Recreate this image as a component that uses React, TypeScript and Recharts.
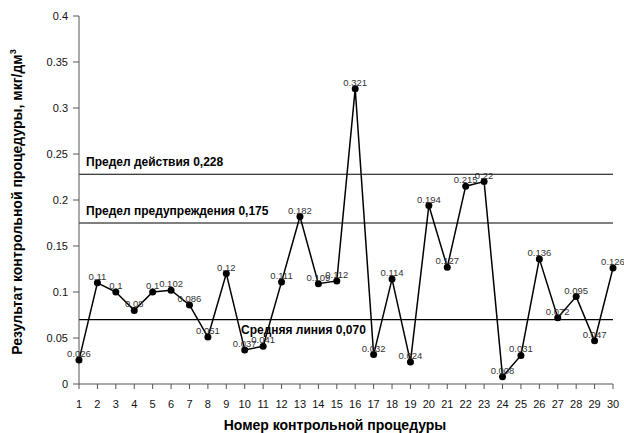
import React from 'react';
import {
  LineChart,
  Line,
  XAxis,
  YAxis,
  ReferenceLine,
  LabelList,
} from 'recharts';

// номера контрольных процедур и результаты, мкг/дм3
const procedures = [
  1, 2, 3, 4, 5, 6, 7, 8, 9, 10, 11, 12, 13, 14, 15,
  16, 17, 18, 19, 20, 21, 22, 23, 24, 25, 26, 27, 28, 29, 30,
];
const results = [
  0.026, 0.11, 0.1, 0.08, 0.1, 0.102, 0.086, 0.051, 0.12, 0.037,
  0.041, 0.111, 0.182, 0.109, 0.112, 0.321, 0.032, 0.114, 0.024, 0.194,
  0.127, 0.215, 0.22, 0.008, 0.031, 0.136, 0.072, 0.095, 0.047, 0.126,
];
const yTicks = [0, 0.05, 0.1, 0.15, 0.2, 0.25, 0.3, 0.35, 0.4];

const actionLimit = 0.228;
const warningLimit = 0.175;
const centerLine = 0.07;

const data = procedures.map((n, i) => ({ n, value: results[i] }));

const FONT = '"Liberation Sans", Arial, sans-serif';

const refLabel = (text: string, dx: number, dy: number) => (props: any) => {
  const vb = props.viewBox || {};
  return (
    <text
      x={vb.x + dx}
      y={vb.y + dy}
      fontFamily={FONT}
      fontSize={12}
      fontWeight="bold"
      fill="#000"
    >
      {text}
    </text>
  );
};

const PointLabel = (props: any) => {
  const { x, y, value } = props;
  return (
    <text
      x={x}
      y={y - 3}
      textAnchor="middle"
      fontFamily={FONT}
      fontSize={9.5}
      fill="#333"
    >
      {value}
    </text>
  );
};

const App: React.FC = () => {
  return (
    <div style={{ position: 'absolute', left: 0, top: 0, background: '#fff' }}>
      <LineChart
        width={624}
        height={433}
        data={data}
        margin={{ top: 16, right: 11, bottom: 0, left: 0 }}
      >
        <XAxis
          dataKey="n"
          type="number"
          domain={[1, 30]}
          ticks={procedures}
          interval={0}
          height={49}
          tickSize={5}
          tickMargin={11}
          stroke="#555"
          tick={{ fill: '#111', fontSize: 11, fontFamily: FONT }}
          label={{
            content: () => (
              <text
                x={335}
                y={430}
                textAnchor="middle"
                fontFamily={FONT}
                fontSize={14}
                fontWeight="bold"
                fill="#000"
              >
                Номер контрольной процедуры
              </text>
            ),
          }}
        />
        <YAxis
          type="number"
          domain={[0, 0.4]}
          ticks={yTicks}
          width={79}
          tickSize={6}
          tickMargin={5}
          stroke="#555"
          tick={{ fill: '#111', fontSize: 11, fontFamily: FONT }}
          label={{
            content: () => (
              <text
                x={22}
                y={202}
                transform="rotate(-90 22 202)"
                textAnchor="middle"
                fontFamily={FONT}
                fontSize={14}
                fontWeight="bold"
                fill="#000"
              >
                Результат контрольной процедуры, мкг/дм
                <tspan fontSize={9} dy={-6}>3</tspan>
              </text>
            ),
          }}
        />
        <ReferenceLine
          y={actionLimit}
          stroke="#000"
          strokeWidth={1.2}
          label={{ content: refLabel('Предел действия 0,228', 7, -8) }}
        />
        <ReferenceLine
          y={warningLimit}
          stroke="#000"
          strokeWidth={1.2}
          label={{ content: refLabel('Предел предупреждения 0,175', 7, -8) }}
        />
        <ReferenceLine
          y={centerLine}
          stroke="#000"
          strokeWidth={1.2}
          label={{ content: refLabel('Средняя линия 0,070', 162, 14) }}
        />
        <Line
          type="linear"
          dataKey="value"
          stroke="#000"
          strokeWidth={1.5}
          dot={{ r: 3.5, fill: '#000', stroke: '#000', strokeWidth: 0 }}
          activeDot={false}
          isAnimationActive={false}
        >
          <LabelList dataKey="value" content={PointLabel} />
        </Line>
      </LineChart>
    </div>
  );
};

export default App;
